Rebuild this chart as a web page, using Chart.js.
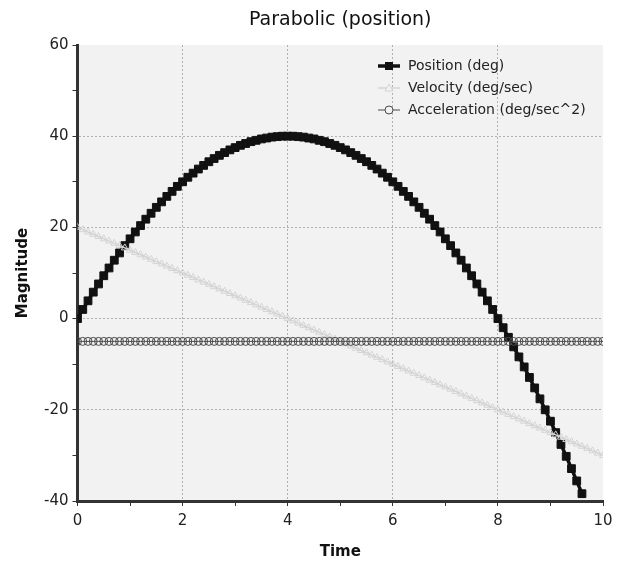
<!DOCTYPE html>
<html lang="en">
<head>
    <meta charset="UTF-8">
    <title>Parabolic (position)</title>
    <script src="https://cdn.jsdelivr.net/npm/chart.js"></script>
    <style>
        body { margin: 0; background: #fff; }
        #wrap { width: 628px; height: 561px; }
    </style>
</head>
<body>
<div id="wrap"><canvas id="parabolaChart"></canvas></div>
<script>
    // time samples (sec), 0.1 apart
    const timeSec = [
        0.0, 0.1, 0.2, 0.3, 0.4, 0.5, 0.6, 0.7, 0.8, 0.9,
        1.0, 1.1, 1.2, 1.3, 1.4, 1.5, 1.6, 1.7, 1.8, 1.9,
        2.0, 2.1, 2.2, 2.3, 2.4, 2.5, 2.6, 2.7, 2.8, 2.9,
        3.0, 3.1, 3.2, 3.3, 3.4, 3.5, 3.6, 3.7, 3.8, 3.9,
        4.0, 4.1, 4.2, 4.3, 4.4, 4.5, 4.6, 4.7, 4.8, 4.9,
        5.0, 5.1, 5.2, 5.3, 5.4, 5.5, 5.6, 5.7, 5.8, 5.9,
        6.0, 6.1, 6.2, 6.3, 6.4, 6.5, 6.6, 6.7, 6.8, 6.9,
        7.0, 7.1, 7.2, 7.3, 7.4, 7.5, 7.6, 7.7, 7.8, 7.9,
        8.0, 8.1, 8.2, 8.3, 8.4, 8.5, 8.6, 8.7, 8.8, 8.9,
        9.0, 9.1, 9.2, 9.3, 9.4, 9.5, 9.6, 9.7, 9.8, 9.9,
        10.0
    ];

    // position stops once it drops below the axis (~9.6 s)
    const positionDeg = [
        0.0, 2.0, 3.9, 5.8, 7.6, 9.4, 11.1, 12.8, 14.4, 16.0,
        17.5, 19.0, 20.4, 21.8, 23.1, 24.4, 25.6, 26.8, 27.9, 29.0,
        30.0, 31.0, 31.9, 32.8, 33.6, 34.4, 35.1, 35.8, 36.4, 37.0,
        37.5, 38.0, 38.4, 38.8, 39.1, 39.4, 39.6, 39.8, 39.9, 40.0,
        40.0, 40.0, 39.9, 39.8, 39.6, 39.4, 39.1, 38.8, 38.4, 38.0,
        37.5, 37.0, 36.4, 35.8, 35.1, 34.4, 33.6, 32.8, 31.9, 31.0,
        30.0, 29.0, 27.9, 26.8, 25.6, 24.4, 23.1, 21.8, 20.4, 19.0,
        17.5, 16.0, 14.4, 12.8, 11.1, 9.4, 7.6, 5.8, 3.9, 2.0,
        0.0, -2.0, -4.1, -6.2, -8.4, -10.6, -12.9, -15.2, -17.6, -20.0,
        -22.5, -25.0, -27.6, -30.2, -32.9, -35.6, -38.4
    ];

    const velocityDeg = [
        20.0, 19.5, 19.0, 18.5, 18.0, 17.5, 17.0, 16.5, 16.0, 15.5,
        15.0, 14.5, 14.0, 13.5, 13.0, 12.5, 12.0, 11.5, 11.0, 10.5,
        10.0, 9.5, 9.0, 8.5, 8.0, 7.5, 7.0, 6.5, 6.0, 5.5,
        5.0, 4.5, 4.0, 3.5, 3.0, 2.5, 2.0, 1.5, 1.0, 0.5,
        0.0, -0.5, -1.0, -1.5, -2.0, -2.5, -3.0, -3.5, -4.0, -4.5,
        -5.0, -5.5, -6.0, -6.5, -7.0, -7.5, -8.0, -8.5, -9.0, -9.5,
        -10.0, -10.5, -11.0, -11.5, -12.0, -12.5, -13.0, -13.5, -14.0, -14.5,
        -15.0, -15.5, -16.0, -16.5, -17.0, -17.5, -18.0, -18.5, -19.0, -19.5,
        -20.0, -20.5, -21.0, -21.5, -22.0, -22.5, -23.0, -23.5, -24.0, -24.5,
        -25.0, -25.5, -26.0, -26.5, -27.0, -27.5, -28.0, -28.5, -29.0, -29.5,
        -30.0
    ];

    const accelerationDeg = [
        -5, -5, -5, -5, -5, -5, -5, -5, -5, -5,
        -5, -5, -5, -5, -5, -5, -5, -5, -5, -5,
        -5, -5, -5, -5, -5, -5, -5, -5, -5, -5,
        -5, -5, -5, -5, -5, -5, -5, -5, -5, -5,
        -5, -5, -5, -5, -5, -5, -5, -5, -5, -5,
        -5, -5, -5, -5, -5, -5, -5, -5, -5, -5,
        -5, -5, -5, -5, -5, -5, -5, -5, -5, -5,
        -5, -5, -5, -5, -5, -5, -5, -5, -5, -5,
        -5, -5, -5, -5, -5, -5, -5, -5, -5, -5,
        -5, -5, -5, -5, -5, -5, -5, -5, -5, -5,
        -5
    ];

    const seriesNames = ['Position (deg)', 'Velocity (deg/sec)', 'Acceleration (deg/sec^2)'];
    const chartTitle = 'Parabolic (position)';

    const FONT = "'DejaVu Sans', sans-serif";

    function toPoints(values) {
        return values.map((v, i) => ({ x: timeSec[i], y: v }));
    }

    const seriesStyles = [
        { color: '#111111', fill: '#111111', width: 3.5, point: 'rect', radius: 5.5 },
        { color: '#d4d4d4', fill: 'rgba(0,0,0,0)', width: 1.5, point: 'triangle', radius: 4 },
        { color: '#4a4a4a', fill: 'rgba(0,0,0,0)', width: 1, point: 'circle', radius: 4 }
    ];

    // light grey plot background
    const plotBackground = {
        id: 'plotBackground',
        beforeDraw(chart) {
            const { ctx, chartArea } = chart;
            ctx.save();
            ctx.fillStyle = '#f2f2f2';
            ctx.fillRect(chartArea.left, chartArea.top, chartArea.right - chartArea.left, chartArea.bottom - chartArea.top);
            ctx.restore();
        }
    };

    // title centred on the plot, legend inside the plot
    const titleAndLegend = {
        id: 'titleAndLegend',
        afterDraw(chart) {
            const { ctx, chartArea } = chart;
            ctx.save();
            ctx.fillStyle = '#111';
            ctx.font = '19px ' + FONT;
            ctx.textAlign = 'center';
            ctx.textBaseline = 'middle';
            ctx.fillText(chartTitle, (chartArea.left + chartArea.right) / 2, 20);

            ctx.font = '14px ' + FONT;
            ctx.textAlign = 'left';
            const x0 = 378, y0 = 66, gap = 22;
            seriesNames.forEach((name, i) => {
                const st = seriesStyles[i];
                const y = y0 + i * gap;
                ctx.strokeStyle = st.color;
                ctx.lineWidth = st.width;
                ctx.beginPath();
                ctx.moveTo(x0, y);
                ctx.lineTo(x0 + 22, y);
                ctx.stroke();
                const cx = x0 + 11;
                ctx.lineWidth = 1;
                ctx.beginPath();
                if (st.point === 'rect') {
                    ctx.fillStyle = st.fill;
                    ctx.fillRect(cx - 4, y - 4, 8, 8);
                } else if (st.point === 'triangle') {
                    ctx.fillStyle = '#f2f2f2';
                    ctx.moveTo(cx, y - 4);
                    ctx.lineTo(cx + 4, y + 3);
                    ctx.lineTo(cx - 4, y + 3);
                    ctx.closePath();
                    ctx.fill();
                    ctx.stroke();
                } else {
                    ctx.fillStyle = '#f2f2f2';
                    ctx.arc(cx, y, 4, 0, Math.PI * 2);
                    ctx.fill();
                    ctx.stroke();
                }
                ctx.fillStyle = '#222';
                ctx.fillText(name, x0 + 30, y);
            });
            ctx.restore();
        }
    };

    const datasets = [positionDeg, velocityDeg, accelerationDeg].map((values, i) => {
        const st = seriesStyles[i];
        return {
            label: seriesNames[i],
            data: toPoints(values),
            borderColor: st.color,
            borderWidth: st.width,
            backgroundColor: st.fill,
            pointStyle: st.point,
            pointRadius: st.radius,
            pointBorderColor: st.color,
            pointBackgroundColor: st.fill,
            pointBorderWidth: 1,
            tension: 0,
            order: 3 - i
        };
    });

    const ctx = document.getElementById('parabolaChart').getContext('2d');
    new Chart(ctx, {
        type: 'line',
        data: { datasets: datasets },
        options: {
            responsive: true,
            maintainAspectRatio: false,
            animation: false,
            events: [],
            layout: { padding: { top: 45, right: 25, left: 14, bottom: 0 } },
            plugins: {
                legend: { display: false },
                title: { display: false },
                tooltip: { enabled: false }
            },
            scales: {
                x: {
                    type: 'linear',
                    min: 0,
                    max: 10,
                    ticks: {
                        stepSize: 1,
                        color: '#222',
                        font: { family: FONT, size: 15 },
                        padding: 6,
                        maxRotation: 0,
                        callback: v => (v % 2 === 0 ? v : '')
                    },
                    grid: {
                        color: c => (c.tick && c.tick.value % 2 === 0 && c.tick.value > 0 && c.tick.value < 10 ? '#b0b0b0' : 'rgba(0,0,0,0)'),
                        tickColor: '#333',
                        tickLength: 5,
                        lineWidth: 1
                    },
                    border: { display: true, color: '#333', width: 3, dash: [2, 2] },
                    title: {
                        display: true,
                        text: 'Time',
                        color: '#111',
                        font: { family: FONT, size: 15, weight: 'bold' },
                        padding: { top: 7, bottom: 0 }
                    }
                },
                y: {
                    min: -40,
                    max: 60,
                    ticks: {
                        stepSize: 10,
                        color: '#222',
                        font: { family: FONT, size: 15 },
                        padding: 4,
                        callback: v => (v % 20 === 0 ? v : '')
                    },
                    grid: {
                        color: c => (c.tick && c.tick.value % 20 === 0 && c.tick.value > -40 && c.tick.value < 60 ? '#b0b0b0' : 'rgba(0,0,0,0)'),
                        tickColor: '#333',
                        tickLength: 5,
                        lineWidth: 1
                    },
                    border: { display: true, color: '#333', width: 3, dash: [2, 2] },
                    title: {
                        display: true,
                        text: 'Magnitude',
                        color: '#111',
                        font: { family: FONT, size: 15, weight: 'bold' },
                        padding: { top: 0, bottom: 8 }
                    }
                }
            }
        },
        plugins: [plotBackground, titleAndLegend]
    });
</script>
</body>
</html>
